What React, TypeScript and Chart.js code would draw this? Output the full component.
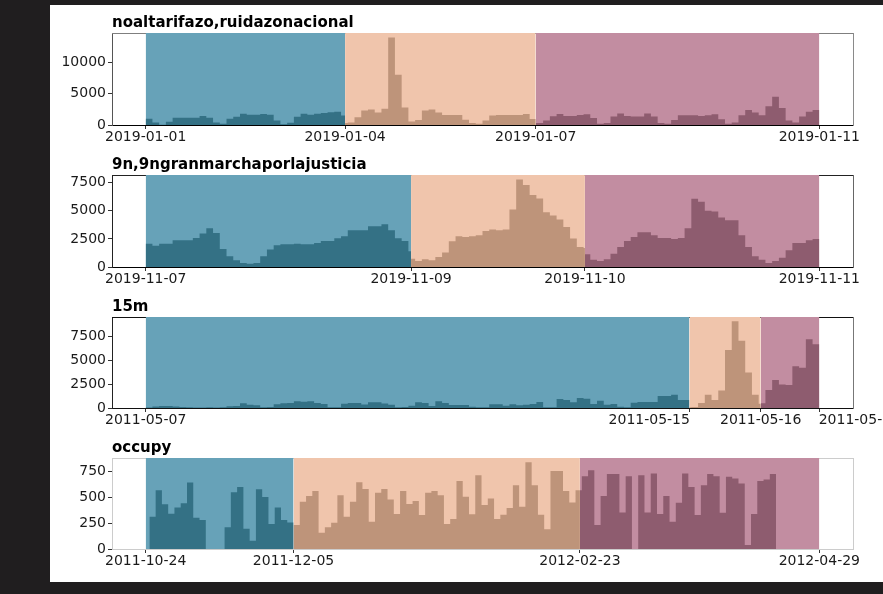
import React, { useEffect, useRef } from "react";
import { Chart, registerables } from "chart.js";

Chart.register(...registerables);

// ------------------------------------------------------------------
// DATA
// ------------------------------------------------------------------
const titles = [
  "noaltarifazo,ruidazonacional",
  "9n,9ngranmarchaporlajusticia",
  "15m",
  "occupy",
];

const dateTickLabels = [
  ["2019-01-01", "2019-01-04", "2019-01-07", "2019-01-11"],
  ["2019-11-07", "2019-11-09", "2019-11-10", "2019-11-11"],
  ["2011-05-07", "2011-05-15", "2011-05-16", "2011-05-17"],
  ["2011-10-24", "2011-12-05", "2012-02-23", "2012-04-29"],
];

// start / before-during / during-after / end, in histogram-bin units (100 bins)
const periodEdges = [
  [0, 29.6, 57.9, 100],
  [0, 39.4, 65.2, 100],
  [0, 80.7, 91.3, 100],
  [-0.59, 23.0, 68.7, 106.9],
];

const yAxisMax = [14650, 8190, 9590, 875];

const yTickValues = [
  [0, 5000, 10000],
  [0, 2500, 5000, 7500],
  [0, 2500, 5000, 7500],
  [0, 250, 500, 750],
];

const HIST_BINS = 100;

// noaltarifazo,ruidazonacional
const noaltarifazoBefore = [1000, 400, 50, 500, 1150, 1150, 1150, 1150, 1450, 1150, 400, 200, 1000, 1300, 1800, 1650, 1650, 1750, 1650, 700, 100, 350, 1300, 1800, 1650, 1800, 1900, 2050, 2100, 1500];
const noaltarifazoDuring = [300, 400, 1250, 2300, 2450, 2000, 2600, 13950, 8000, 2800, 550, 800, 2300, 2450, 2000, 1600, 1600, 1600, 830, 310, 200, 730, 1500, 1600, 1600, 1600, 1600, 1770, 940];
const noaltarifazoAfter = [300, 300, 700, 1400, 1750, 1450, 1450, 1600, 1700, 1100, 200, 300, 1350, 1850, 1450, 1350, 1350, 1850, 1350, 300, 200, 800, 1550, 1550, 1550, 1450, 1550, 1700, 900, 200, 400, 1550, 2400, 2000, 1550, 3000, 4500, 2700, 700, 400, 1350, 2100, 2400];

// 9n,9ngranmarchaporlajusticia
const marchaBefore = [2080, 1900, 2080, 2080, 2380, 2380, 2380, 2590, 2980, 3450, 3030, 1600, 950, 600, 360, 300, 360, 950, 1550, 1930, 2020, 2020, 2080, 2020, 2020, 2140, 2320, 2320, 2560, 2740, 3270, 3270, 3270, 3630, 3630, 3810, 3270, 2560, 2320, 1400];
const marchaDuring = [740, 540, 680, 600, 900, 1300, 2290, 2740, 2680, 2740, 2830, 3210, 3330, 3270, 3330, 5120, 7800, 7290, 6400, 6100, 4880, 4580, 4230, 3570, 2530, 1790, 1700];
const marchaAfter = [1130, 650, 540, 680, 1190, 1790, 2320, 2680, 3100, 3100, 2830, 2590, 2590, 2500, 2590, 3450, 6070, 5800, 5000, 4940, 4400, 4170, 4170, 2830, 1790, 950, 650, 360, 540, 830, 1490, 2140, 2140, 2380, 2500];

// 15m
const quinceMBefore = [50, 150, 200, 200, 150, 100, 80, 60, 60, 70, 60, 80, 180, 200, 500, 330, 300, 80, 100, 400, 500, 530, 700, 650, 700, 520, 420, 80, 80, 450, 520, 520, 380, 600, 600, 480, 350, 80, 100, 230, 600, 520, 210, 700, 540, 310, 310, 310, 140, 70, 70, 385, 385, 245, 385, 280, 350, 420, 630, 70, 70, 945, 840, 595, 1050, 980, 420, 770, 350, 420, 140, 70, 560, 630, 630, 630, 1260, 1260, 1400, 840, 840];
const quinceMDuring = [70, 100, 520, 1400, 840, 1850, 6100, 9130, 7100, 3750, 1400, 450];
const quinceMAfter = [490, 1890, 2940, 2485, 2415, 4410, 4235, 7245, 6720];

// occupy
const occupyBefore = [310, 565, 430, 340, 400, 440, 640, 300, 280, 0, 0, 0, 210, 545, 595, 195, 80, 575, 500, 240, 400, 280, 255];
const occupyDuring = [230, 455, 510, 557, 157, 208, 253, 518, 310, 454, 643, 576, 262, 540, 576, 477, 336, 557, 432, 461, 326, 540, 557, 518, 240, 288, 653, 502, 333, 710, 422, 486, 288, 330, 394, 614, 406, 835, 614, 330, 190, 750, 750, 557, 448, 566];
const occupyAfter = [566, 700, 758, 230, 509, 720, 720, 352, 700, 0, 710, 352, 726, 336, 509, 262, 445, 726, 595, 326, 614, 720, 700, 349, 694, 678, 630, 38, 336, 653, 669, 720];

const panelSeries = [
  [noaltarifazoBefore, noaltarifazoDuring, noaltarifazoAfter],
  [marchaBefore, marchaDuring, marchaAfter],
  [quinceMBefore, quinceMDuring, quinceMAfter],
  [occupyBefore, occupyDuring, occupyAfter],
];

// ------------------------------------------------------------------
// STYLE
// ------------------------------------------------------------------
const FONT = "'DejaVu Sans', sans-serif";
const spanColors = ["#67a2b8", "#f0c5ac", "#c28da1"];
const barColors = ["#347185", "#be947a", "#8e5c6f"];
const frameColors = [
  { top: "#7f7f7f", right: "#8a8a8a", left: "#555555", bottom: "#000000" },
  { top: "#222222", right: "#666666", left: "#222222", bottom: "#000000" },
  { top: "#111111", right: "#777777", left: "#222222", bottom: "#111111" },
  { top: "#cccccc", right: "#cccccc", left: "#cccccc", bottom: "#cccccc" },
];
const canvasTops = [0, 142, 284, 425];
const plotHeights = [92, 92, 91, 91];
// per-label horizontal alignment relative to its tick: c = centre, r = ends at tick, l = starts at tick
const labelAlign = [
  ["c", "c", "c", "c"],
  ["c", "c", "c", "c"],
  ["c", "r", "c", "l"],
  ["c", "c", "c", "c"],
];
const PAD_SPACES = 18;
const TITLE_H = 28;
const XAXIS_H = 22;
const YAXIS_W = 62;
const RIGHT_PAD = 30;
const CANVAS_W = 833;

function histPoints(values: number[], start: number, end: number) {
  const first = Math.max(0, Math.floor(start));
  const pts: { x: number; y: number }[] = [];
  values.forEach((v, k) => {
    pts.push({ x: Math.max(first + k, start), y: v });
  });
  const lastEdge = Math.min(first + values.length, end, HIST_BINS);
  pts.push({ x: lastEdge, y: values[values.length - 1] });
  return pts;
}

function Panel({ index }: { index: number }) {
  const ref = useRef<HTMLCanvasElement>(null);
  const height = TITLE_H + plotHeights[index] + XAXIS_H;

  useEffect(() => {
    const canvas = ref.current;
    if (!canvas) return;
    const edges = periodEdges[index];
    const span = edges[3] - edges[0];
    const xMin = edges[0] - 0.05 * span;
    const xMax = edges[3] + 0.05 * span;
    const ymax = yAxisMax[index];
    const frame = frameColors[index];
    const labels = dateTickLabels[index];
    const aligns = labelAlign[index];
    const series = panelSeries[index];
    const transparent = "rgba(0,0,0,0)";
    const pad = " ".repeat(PAD_SPACES);

    const datasets: any[] = [];
    for (let p = 0; p < 3; p++) {
      datasets.push({
        data: histPoints(series[p], edges[p], edges[p + 1]),
        stepped: true,
        fill: "origin",
        backgroundColor: barColors[p],
        borderColor: transparent,
        borderWidth: 0,
        pointRadius: 0,
        order: 1,
      });
      datasets.push({
        data: [
          { x: edges[p], y: ymax },
          { x: edges[p + 1], y: ymax },
        ],
        fill: "origin",
        backgroundColor: spanColors[p],
        borderColor: transparent,
        borderWidth: 0,
        pointRadius: 0,
        order: 2,
      });
    }

    const chart = new Chart(canvas, {
      type: "line",
      data: { datasets },
      options: {
        animation: false,
        responsive: false,
        devicePixelRatio: 1,
        events: [],
        layout: { padding: { left: 0, right: RIGHT_PAD, top: 0, bottom: 0 } },
        plugins: {
          legend: { display: false },
          tooltip: { enabled: false },
          title: {
            display: true,
            text: titles[index],
            align: "start",
            fullSize: false,
            color: "#000000",
            font: { family: FONT, size: 15, weight: "bold", lineHeight: 1.2 },
            padding: { top: 9, bottom: 1 },
          },
        },
        scales: {
          x: {
            type: "linear",
            position: "bottom",
            min: xMin,
            max: xMax,
            afterBuildTicks: (s: any) => {
              s.ticks = edges.map((v) => ({ value: v }));
            },
            afterFit: (s: any) => {
              s.height = XAXIS_H;
              s.paddingLeft = 0;
              s.paddingRight = 0;
            },
            ticks: {
              autoSkip: false,
              maxRotation: 0,
              minRotation: 0,
              padding: 0,
              color: "#1a1a1a",
              font: { family: FONT, size: 14 },
              callback: (_v: any, i: number) => {
                const l = labels[i];
                if (aligns[i] === "l") return pad + l;
                if (aligns[i] === "r") return l + pad;
                return l;
              },
            },
            grid: {
              display: true,
              drawOnChartArea: false,
              drawTicks: true,
              tickLength: 4,
              tickColor: "#333333",
              lineWidth: 1,
            },
            border: { display: true, color: frame.bottom, width: 1 },
          },
          y: {
            type: "linear",
            position: "left",
            min: 0,
            max: ymax,
            afterBuildTicks: (s: any) => {
              s.ticks = yTickValues[index].map((v) => ({ value: v }));
            },
            afterFit: (s: any) => {
              s.width = YAXIS_W;
            },
            ticks: {
              padding: 2,
              color: "#1a1a1a",
              font: { family: FONT, size: 14 },
              callback: (v: any) => String(v),
            },
            grid: {
              display: true,
              drawOnChartArea: false,
              drawTicks: true,
              tickLength: 4,
              tickColor: "#333333",
              lineWidth: 1,
            },
            border: { display: true, color: frame.left, width: 1 },
          },
          xTop: {
            type: "linear",
            position: "top",
            display: true,
            ticks: { display: false },
            grid: { display: false, drawTicks: false },
            border: { display: true, color: frame.top, width: 1 },
            afterFit: (s: any) => {
              s.height = 0;
            },
          },
          yRight: {
            type: "linear",
            position: "right",
            display: true,
            ticks: { display: false },
            grid: { display: false, drawTicks: false },
            border: { display: true, color: frame.right, width: 1 },
            afterFit: (s: any) => {
              s.width = 0;
            },
          },
        },
      } as any,
    });
    return () => chart.destroy();
  }, [index]);

  return (
    <canvas
      ref={ref}
      width={CANVAS_W}
      height={height}
      style={{
        position: "absolute",
        left: 0,
        top: canvasTops[index],
        width: CANVAS_W,
        height,
        display: "block",
      }}
    />
  );
}

export default function App() {
  return (
    <div
      style={{
        position: "absolute",
        left: 0,
        top: 0,
        width: 883,
        height: 594,
        background: "#201e1f",
        overflow: "hidden",
      }}
    >
      <div
        style={{
          position: "absolute",
          left: 50,
          top: 5,
          width: 833,
          height: 577,
          background: "#ffffff",
        }}
      >
        {[0, 1, 2, 3].map((i) => (
          <Panel key={i} index={i} />
        ))}
      </div>
    </div>
  );
}
